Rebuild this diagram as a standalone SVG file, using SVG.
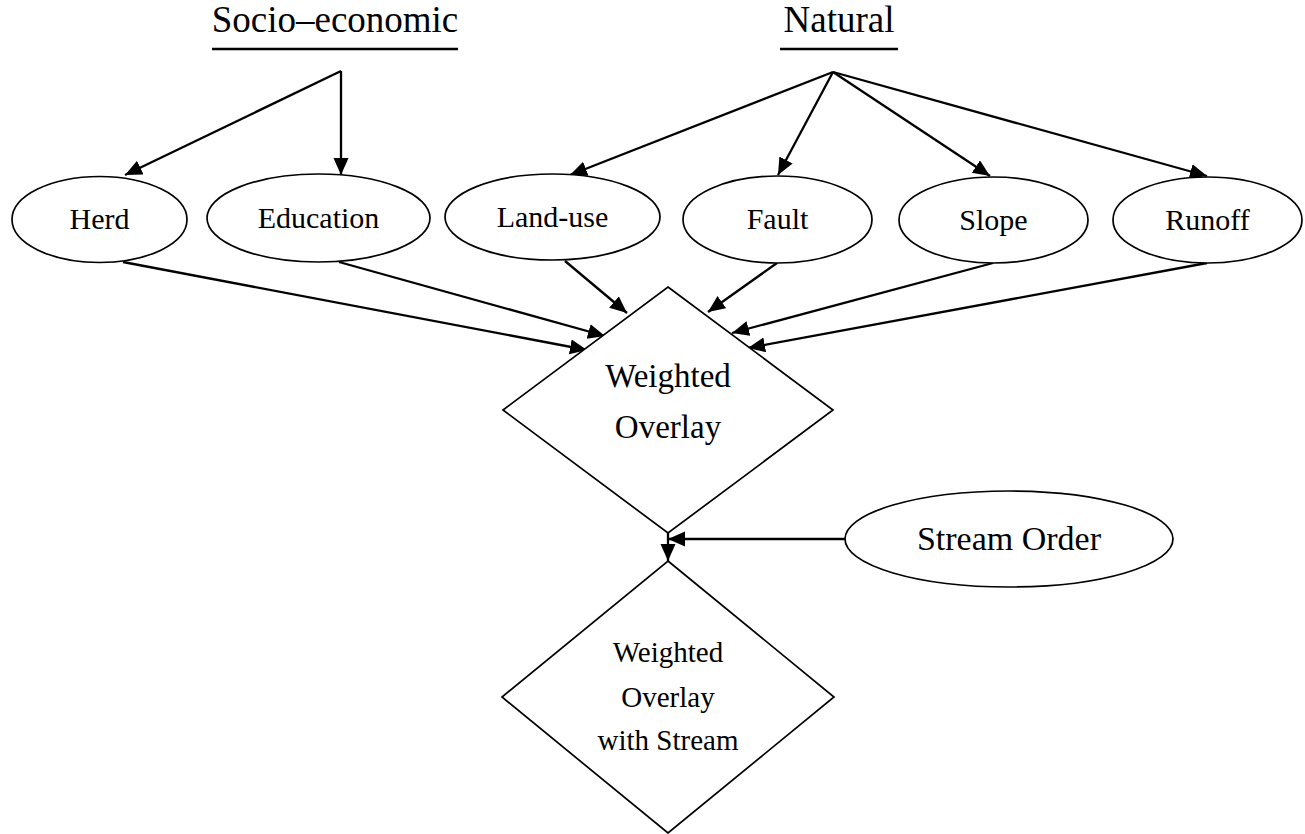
<svg xmlns="http://www.w3.org/2000/svg" width="1305" height="834" viewBox="0 0 1305 834">
  <style>
    .shape { fill: #ffffff; stroke: #000000; stroke-width: 1.7; }
    .edge { fill: none; stroke: #000000; stroke-width: 2.3; }
    .rule { stroke: #000000; stroke-width: 2.4; }
    .lbl { font-family: "Liberation Serif", "Times New Roman", serif; fill: #000000; text-anchor: middle; }
    .node { font-size: 30px; }
    .head { font-size: 37px; }
    .dia1 { font-size: 33px; }
    .dia2 { font-size: 29px; }
    .big { font-size: 34px; }
  </style>
  <defs>
    <marker id="arrow" markerUnits="userSpaceOnUse" markerWidth="18" markerHeight="16" refX="17" refY="7.5" orient="auto">
      <path d="M0,0 L17,7.5 L0,15 z" fill="#000000"/>
    </marker>
  </defs>
  <rect width="1305" height="834" fill="#ffffff"/>

  <!-- group headings -->
  <g id="heading-socio">
    <text class="lbl head" x="335" y="32">Socio–economic</text>
    <line class="rule" x1="212" y1="49" x2="458" y2="49"/>
  </g>
  <g id="heading-natural">
    <text class="lbl head" x="839" y="32">Natural</text>
    <line class="rule" x1="780" y1="49" x2="898" y2="49"/>
  </g>

  <!-- connectors -->
  <g id="connectors">
    <path class="edge" d="M341,71 L125,175" marker-end="url(#arrow)"/>
    <path class="edge" d="M341,71 L341,175" marker-end="url(#arrow)"/>
    <path class="edge" d="M833,72 L570,175" marker-end="url(#arrow)"/>
    <path class="edge" d="M833,72 L778,175" marker-end="url(#arrow)"/>
    <path class="edge" d="M833,72 L990,176" marker-end="url(#arrow)"/>
    <path class="edge" d="M833,72 L1207,176" marker-end="url(#arrow)"/>

    <path class="edge" d="M123,262 L587,350" marker-end="url(#arrow)"/>
    <path class="edge" d="M339,262 L605,336" marker-end="url(#arrow)"/>
    <path class="edge" d="M565,261 L627,313" marker-end="url(#arrow)"/>
    <path class="edge" d="M777,263 L708,312" marker-end="url(#arrow)"/>
    <path class="edge" d="M993,263 L732,333" marker-end="url(#arrow)"/>
    <path class="edge" d="M1207,263 L748,348" marker-end="url(#arrow)"/>

    <path class="edge" d="M845,539 L668,539" marker-end="url(#arrow)"/>
    <path class="edge" d="M668,533 L668,561" marker-end="url(#arrow)"/>
  </g>

  <!-- factor nodes -->
  <g id="node-herd">
    <ellipse class="shape" cx="99.5" cy="219.5" rx="87.5" ry="43"/>
    <text class="lbl node" x="99.5" y="229">Herd</text>
  </g>
  <g id="node-education">
    <ellipse class="shape" cx="318.5" cy="218" rx="111.5" ry="44"/>
    <text class="lbl node" x="318.5" y="228">Education</text>
  </g>
  <g id="node-landuse">
    <ellipse class="shape" cx="552.5" cy="217" rx="107.5" ry="43"/>
    <text class="lbl node" x="552.5" y="227">Land-use</text>
  </g>
  <g id="node-fault">
    <ellipse class="shape" cx="777.5" cy="219.5" rx="94.5" ry="43.5"/>
    <text class="lbl node" x="777.5" y="229">Fault</text>
  </g>
  <g id="node-slope">
    <ellipse class="shape" cx="993.5" cy="220" rx="94.5" ry="43"/>
    <text class="lbl node" x="993.5" y="230">Slope</text>
  </g>
  <g id="node-runoff">
    <ellipse class="shape" cx="1207.5" cy="220" rx="94.5" ry="43"/>
    <text class="lbl node" x="1207.5" y="230">Runoff</text>
  </g>

  <!-- overlay steps -->
  <g id="node-weighted-overlay">
    <polygon class="shape" points="668,287 833,410 668,533 503,410"/>
    <text class="lbl dia1" x="668" y="387">Weighted</text>
    <text class="lbl dia1" x="668" y="438">Overlay</text>
  </g>
  <g id="node-stream-order">
    <ellipse class="shape" cx="1009" cy="539" rx="164" ry="48"/>
    <text class="lbl big" x="1009" y="550">Stream Order</text>
  </g>
  <g id="node-weighted-overlay-stream">
    <polygon class="shape" points="668,561 834,697 668,833 502,697"/>
    <text class="lbl dia2" x="668" y="662">Weighted</text>
    <text class="lbl dia2" x="668" y="707">Overlay</text>
    <text class="lbl dia2" x="668" y="750">with Stream</text>
  </g>
</svg>
